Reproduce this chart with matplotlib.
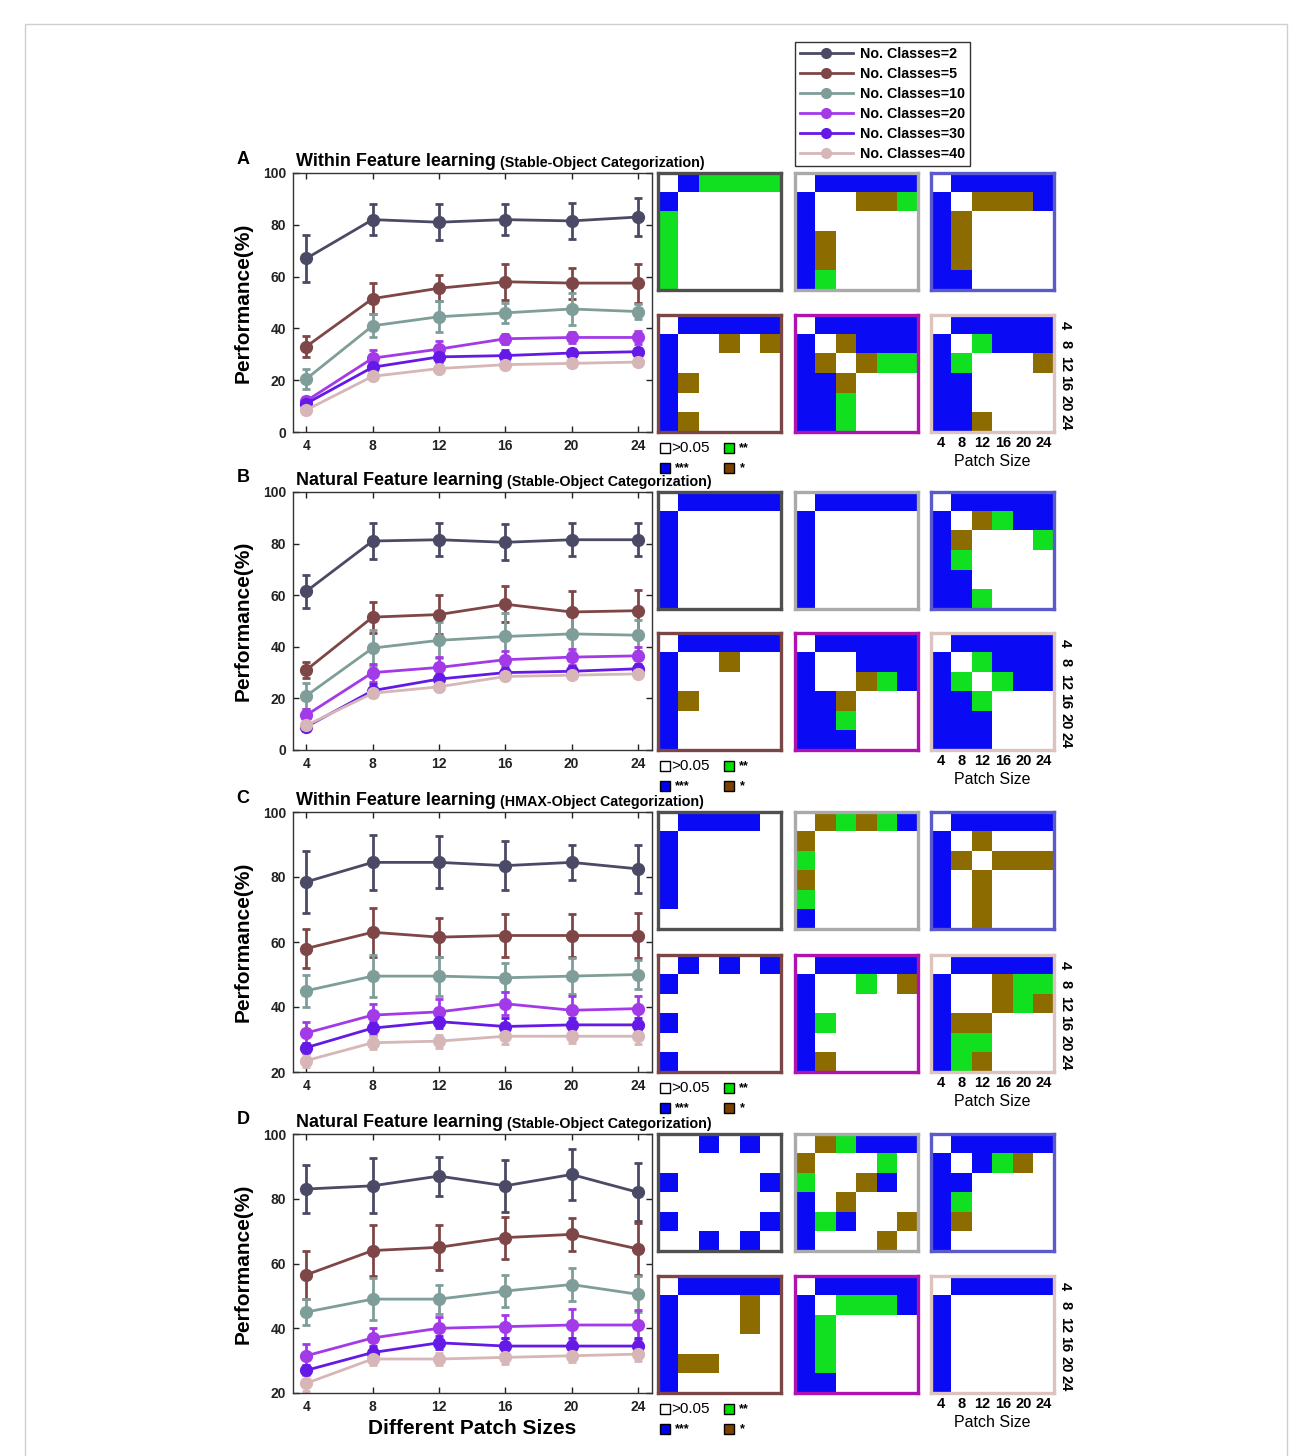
import matplotlib.pyplot as plt
import numpy as np
from matplotlib.colors import ListedColormap
from matplotlib.patches import Rectangle
from matplotlib.lines import Line2D

plt.rcParams['font.family'] = ['Liberation Sans', 'DejaVu Sans']

W, H = 1311, 1456

patch_sizes = [4, 8, 12, 16, 20, 24]
patch_labels = ['4', '8', '12', '16', '20', '24']
class_labels = ['No. Classes=2', 'No. Classes=5', 'No. Classes=10',
                'No. Classes=20', 'No. Classes=30', 'No. Classes=40']
line_colors = ['#4a4a66', '#7e4646', '#7f9d99', '#a33ae8', '#6419e6', '#d6b6b6']

# mean performance (%) per number of classes, panel A..D
a_mean = [[67, 82, 81, 82, 81.5, 83],
          [33, 51.5, 55.5, 58, 57.5, 57.5],
          [20.5, 41, 44.5, 46, 47.5, 46.5],
          [12, 28.5, 32, 36, 36.5, 36.5],
          [11, 25, 29, 29.5, 30.5, 31],
          [8.5, 21.5, 24.5, 26, 26.5, 27]]
a_err = [[9, 6, 7, 6, 7, 7.5],
         [4, 6, 5, 7, 6, 7.5],
         [4, 4.5, 6, 4, 6, 3],
         [1.5, 3, 3, 2, 2, 2.5],
         [1.5, 2, 2, 2, 1.5, 1.5],
         [1.5, 1.5, 1.5, 1.5, 1.5, 1.5]]

b_mean = [[61.5, 81, 81.5, 80.5, 81.5, 81.5],
          [31, 51.5, 52.5, 56.5, 53.5, 54],
          [21, 39.5, 42.5, 44, 45, 44.5],
          [13.5, 30, 32, 35, 36, 36.5],
          [9, 23, 27.5, 30, 30.5, 31.5],
          [9.5, 22, 24.5, 28.5, 29, 29.5]]
b_err = [[6.5, 7, 6.5, 7, 6.5, 6.5],
         [3, 6, 7.5, 7, 8, 8],
         [5, 7, 7, 9, 7, 6],
         [2.5, 3.5, 4, 3.5, 3, 3.5],
         [1.5, 2.5, 2, 2, 2, 2],
         [1, 1, 1, 1, 1, 1]]

c_mean = [[78.5, 84.5, 84.5, 83.5, 84.5, 82.5],
          [58, 63, 61.5, 62, 62, 62],
          [45, 49.5, 49.5, 49, 49.5, 50],
          [32, 37.5, 38.5, 41, 39, 39.5],
          [27.5, 33.5, 35.5, 34, 34.5, 34.5],
          [23.5, 29, 29.5, 31, 31, 31]]
c_err = [[9.5, 8.5, 8, 7.5, 5.5, 7.5],
         [6, 7.5, 6, 6.5, 6.5, 7],
         [5, 6.5, 6, 4.5, 5.5, 4.5],
         [3.5, 3.5, 4, 3.5, 4.5, 4],
         [1.5, 2, 2, 2.5, 2, 2],
         [2, 2, 2, 2.5, 2, 2.5]]

d_mean = [[83, 84, 87, 84, 87.5, 82],
          [56.5, 64, 65, 68, 69, 64.5],
          [45, 49, 49, 51.5, 53.5, 50.5],
          [31.5, 37, 40, 40.5, 41, 41],
          [27, 32.5, 35.5, 34.5, 34.5, 34.5],
          [23, 30.5, 30.5, 31, 31.5, 32]]
d_err = [[7.5, 8.5, 6, 8, 8, 9],
         [7.5, 8, 7, 6.5, 5, 8],
         [4, 6.5, 4.5, 5, 5, 5.5],
         [3.5, 3, 3.5, 3.5, 5, 4.5],
         [1.5, 2, 2, 2.5, 2.5, 2.5],
         [2.5, 2, 2, 2, 2, 2]]

# pairwise significance between patch sizes: 0 p>0.05, 1 *, 2 **, 3 ***
# order: classes 2, 10, 30 (top row), 5, 20, 40 (bottom row)
a_sig = [
    [[0,3,2,2,2,2],[3,0,0,0,0,0],[2,0,0,0,0,0],[2,0,0,0,0,0],[2,0,0,0,0,0],[2,0,0,0,0,0]],
    [[0,3,3,3,3,3],[3,0,0,1,1,2],[3,0,0,0,0,0],[3,1,0,0,0,0],[3,1,0,0,0,0],[3,2,0,0,0,0]],
    [[0,3,3,3,3,3],[3,0,1,1,1,3],[3,1,0,0,0,0],[3,1,0,0,0,0],[3,1,0,0,0,0],[3,3,0,0,0,0]],
    [[0,3,3,3,3,3],[3,0,0,1,0,1],[3,0,0,0,0,0],[3,1,0,0,0,0],[3,0,0,0,0,0],[3,1,0,0,0,0]],
    [[0,3,3,3,3,3],[3,0,1,3,3,3],[3,1,0,1,2,2],[3,3,1,0,0,0],[3,3,2,0,0,0],[3,3,2,0,0,0]],
    [[0,3,3,3,3,3],[3,0,2,3,3,3],[3,2,0,0,0,1],[3,3,0,0,0,0],[3,3,0,0,0,0],[3,3,1,0,0,0]],
]
b_sig = [
    [[0,3,3,3,3,3],[3,0,0,0,0,0],[3,0,0,0,0,0],[3,0,0,0,0,0],[3,0,0,0,0,0],[3,0,0,0,0,0]],
    [[0,3,3,3,3,3],[3,0,0,0,0,0],[3,0,0,0,0,0],[3,0,0,0,0,0],[3,0,0,0,0,0],[3,0,0,0,0,0]],
    [[0,3,3,3,3,3],[3,0,1,2,3,3],[3,1,0,0,0,2],[3,2,0,0,0,0],[3,3,0,0,0,0],[3,3,2,0,0,0]],
    [[0,3,3,3,3,3],[3,0,0,1,0,0],[3,0,0,0,0,0],[3,1,0,0,0,0],[3,0,0,0,0,0],[3,0,0,0,0,0]],
    [[0,3,3,3,3,3],[3,0,0,3,3,3],[3,0,0,1,2,3],[3,3,1,0,0,0],[3,3,2,0,0,0],[3,3,3,0,0,0]],
    [[0,3,3,3,3,3],[3,0,2,3,3,3],[3,2,0,2,3,3],[3,3,2,0,0,0],[3,3,3,0,0,0],[3,3,3,0,0,0]],
]
c_sig = [
    [[0,3,3,3,3,0],[3,0,0,0,0,0],[3,0,0,0,0,0],[3,0,0,0,0,0],[3,0,0,0,0,0],[0,0,0,0,0,0]],
    [[0,1,2,1,2,3],[1,0,0,0,0,0],[2,0,0,0,0,0],[1,0,0,0,0,0],[2,0,0,0,0,0],[3,0,0,0,0,0]],
    [[0,3,3,3,3,3],[3,0,1,0,0,0],[3,1,0,1,1,1],[3,0,1,0,0,0],[3,0,1,0,0,0],[3,0,1,0,0,0]],
    [[0,3,0,3,0,3],[3,0,0,0,0,0],[0,0,0,0,0,0],[3,0,0,0,0,0],[0,0,0,0,0,0],[3,0,0,0,0,0]],
    [[0,3,3,3,3,3],[3,0,0,2,0,1],[3,0,0,0,0,0],[3,2,0,0,0,0],[3,0,0,0,0,0],[3,1,0,0,0,0]],
    [[0,3,3,3,3,3],[3,0,0,1,2,2],[3,0,0,1,2,1],[3,1,1,0,0,0],[3,2,2,0,0,0],[3,2,1,0,0,0]],
]
d_sig = [
    [[0,0,3,0,3,0],[0,0,0,0,0,0],[3,0,0,0,0,3],[0,0,0,0,0,0],[3,0,0,0,0,3],[0,0,3,0,3,0]],
    [[0,1,2,3,3,3],[1,0,0,0,2,0],[2,0,0,1,3,0],[3,0,1,0,0,0],[3,2,3,0,0,1],[3,0,0,0,1,0]],
    [[0,3,3,3,3,3],[3,0,3,2,1,0],[3,3,0,0,0,0],[3,2,0,0,0,0],[3,1,0,0,0,0],[3,0,0,0,0,0]],
    [[0,3,3,3,3,3],[3,0,0,0,1,0],[3,0,0,0,1,0],[3,0,0,0,0,0],[3,1,1,0,0,0],[3,0,0,0,0,0]],
    [[0,3,3,3,3,3],[3,0,2,2,2,3],[3,2,0,0,0,0],[3,2,0,0,0,0],[3,2,0,0,0,0],[3,3,0,0,0,0]],
    [[0,3,3,3,3,3],[3,0,0,0,0,0],[3,0,0,0,0,0],[3,0,0,0,0,0],[3,0,0,0,0,0],[3,0,0,0,0,0]],
]

sig_cmap = ListedColormap(['#ffffff', '#8c6c00', '#10e020', '#0a0af5'])
border_colors = ['#505050', '#aaaaaa', '#5a5acc', '#7b4646', '#b012b0', '#dcc3bd']

panels = [
    dict(letter='A', title='Within Feature learning', sub='(Stable-Object Categorization)',
         top=173, bot=432, ymin=0, mean=a_mean, err=a_err, sig=a_sig),
    dict(letter='B', title='Natural Feature learning', sub='(Stable-Object Categorization)',
         top=492, bot=750, ymin=0, mean=b_mean, err=b_err, sig=b_sig),
    dict(letter='C', title='Within Feature learning', sub='(HMAX-Object Categorization)',
         top=812, bot=1072, ymin=20, mean=c_mean, err=c_err, sig=c_sig),
    dict(letter='D', title='Natural Feature learning', sub='(Stable-Object Categorization)',
         top=1134, bot=1393, ymin=20, mean=d_mean, err=d_err, sig=d_sig),
]


def rect(x0, y0, x1, y1):
    return [x0 / W, 1 - y1 / H, (x1 - x0) / W, (y1 - y0) / H]


def fx(x):
    return x / W


def fy(y):
    return 1 - y / H


fig = plt.figure(figsize=(W / 100, H / 100), dpi=100)

# light outer frame
fig.patches.append(Rectangle((fx(25), fy(1480)), fx(1287) - fx(25), fy(24) - fy(1480),
                             transform=fig.transFigure, fill=False, edgecolor='#cfcfcf', lw=1))

mat_x = [658, 795, 931]
mw, mh = 123, 117

for i, p in enumerate(panels):
    top, bot = p['top'], p['bot']
    ax = fig.add_axes(rect(293, top, 652, bot))
    for k in range(6):
        ax.errorbar(patch_sizes, p['mean'][k], yerr=p['err'][k], color=line_colors[k],
                    lw=2, marker='o', ms=8.5, capsize=3, elinewidth=2, capthick=2)
    ax.set_xlim(3.2, 24.85)
    ax.set_ylim(p['ymin'], 100)
    ax.set_xticks(patch_sizes)
    ax.set_yticks(range(p['ymin'], 101, 20))
    ax.tick_params(direction='in', top=True, right=True, length=4, width=1,
                   labelsize=10, pad=5, colors='#222222')
    for lab in ax.get_xticklabels() + ax.get_yticklabels():
        lab.set_fontweight('bold')
    for s in ax.spines.values():
        s.set_color('#333333')
        s.set_linewidth(1)

    fig.text(fx(243), fy((top + bot) / 2), 'Performance(%)', rotation=90,
             ha='center', va='center', fontsize=15, fontweight='bold')
    fig.text(fx(243), fy(top - 14), p['letter'], ha='center', va='center',
             fontsize=13, fontweight='bold')
    t1 = fig.text(fx(296), fy(top - 3), p['title'], ha='left', va='bottom',
                  fontsize=13, fontweight='bold')
    ax.annotate(p['sub'], xy=(1, 0), xycoords=t1, xytext=(3, 0),
                textcoords='offset points', ha='left', va='bottom',
                fontsize=10.3, fontweight='bold', annotation_clip=False)
    if i == 3:
        ax.set_xlabel('Different Patch Sizes', fontsize=15, fontweight='bold', labelpad=4)

    for r in range(2):
        for c in range(3):
            j = r * 3 + c
            y0 = top if r == 0 else bot - mh
            mx = fig.add_axes(rect(mat_x[c], y0, mat_x[c] + mw, y0 + mh))
            mx.imshow(np.array(p['sig'][j]), cmap=sig_cmap, vmin=-0.5, vmax=3.5,
                      aspect='auto', interpolation='nearest')
            mx.set_xticks([])
            mx.set_yticks([])
            for s in mx.spines.values():
                s.set_color(border_colors[j])
                s.set_linewidth(2.4)
            if j == 5:
                mx.set_xticks(range(6))
                mx.set_xticklabels(patch_labels, fontsize=10.5, fontweight='bold')
                mx.yaxis.tick_right()
                mx.set_yticks(range(6))
                mx.set_yticklabels(patch_labels, fontsize=10.5, fontweight='bold',
                                   rotation=-90, va='center')
                mx.tick_params(length=0, pad=3)
                mx.set_xlabel('Patch Size', fontsize=11.5, labelpad=3)

    # significance key
    y1, y2 = bot + 16, bot + 36
    key = [(660, y1, '#ffffff', '>0.05', 11, 'normal', 671),
           (724, y1, '#00e000', '**', 9, 'bold', 739),
           (660, y2, '#0000ee', '***', 9, 'bold', 675),
           (724, y2, '#7b3f00', '*', 9, 'bold', 740)]
    for kx, ky, kc, kt, ks, kw, tx in key:
        fig.patches.append(Rectangle((fx(kx), fy(ky + 5)), 10 / W, 10 / H,
                                     transform=fig.transFigure, facecolor=kc,
                                     edgecolor='black', lw=1))
        fig.text(fx(tx), fy(ky), kt, ha='left', va='center', fontsize=ks, fontweight=kw)

handles = [Line2D([], [], color=c, lw=2, marker='o', ms=7) for c in line_colors]
leg = fig.legend(handles, class_labels, loc='upper left',
                 bbox_to_anchor=(fx(795), fy(42)), frameon=True, fancybox=False,
                 edgecolor='black', borderaxespad=0, handlelength=3.7,
                 prop=dict(weight='bold', size=10.3), labelspacing=0.42,
                 borderpad=0.35, handletextpad=0.5)
leg.get_frame().set_linewidth(1)

fig.savefig('out.png', dpi=100)
